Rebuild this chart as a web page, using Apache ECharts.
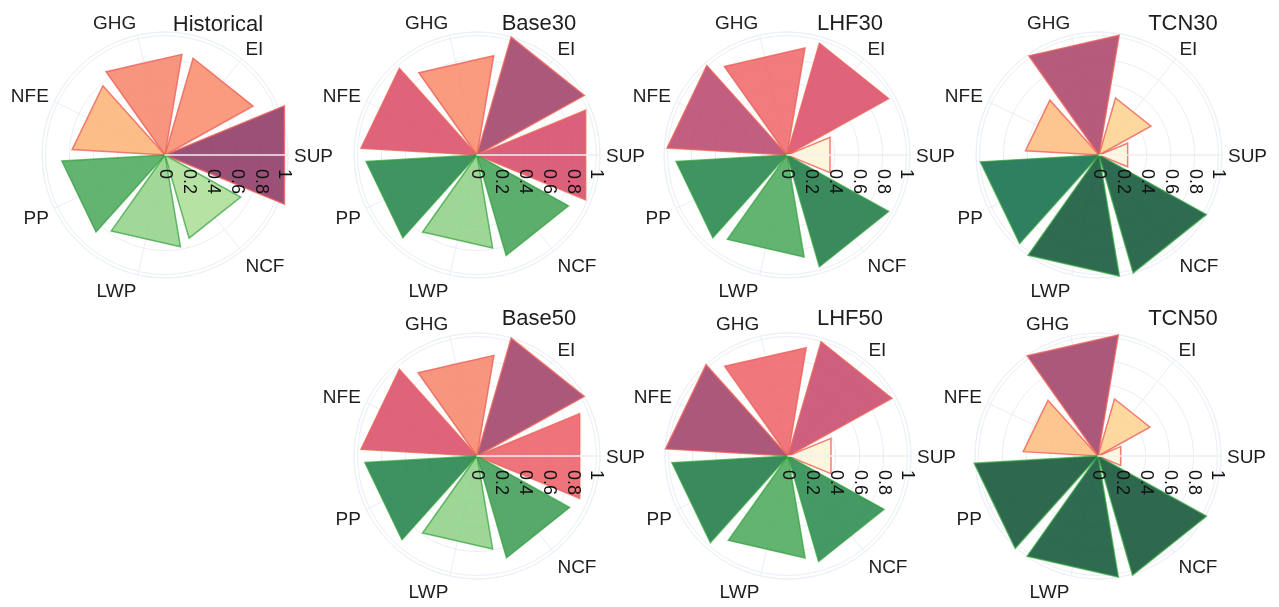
<!DOCTYPE html>
<html>
<head>
<meta charset="utf-8">
<script src="https://cdn.jsdelivr.net/npm/echarts@6/dist/echarts.min.js"></script>
<style>
html,body{margin:0;padding:0;background:#ffffff;}
#chart{width:1279px;height:607px;}
</style>
</head>
<body>
<div id="chart"></div>
<script>
// ---------------- data ----------------
const categories = ['SUP', 'EI', 'GHG', 'NFE', 'PP', 'LWP', 'NCF'];
const scenarioNames = ['Historical', 'Base30', 'LHF30', 'TCN30', 'Base50', 'LHF50', 'TCN50'];
const historical = [1.00, 0.78, 0.79, 0.72, 0.80, 0.72, 0.67];
const base30     = [0.91, 0.95, 0.78, 0.90, 0.86, 0.73, 0.81];
const lhf30      = [0.36, 0.90, 0.84, 0.93, 0.86, 0.80, 0.90];
const tcn30      = [0.24, 0.46, 0.94, 0.57, 0.92, 0.95, 0.95];
const base50     = [0.86, 0.95, 0.79, 0.90, 0.87, 0.73, 0.82];
const lhf50      = [0.36, 0.92, 0.85, 0.95, 0.90, 0.80, 0.85];
const tcn50      = [0.19, 0.46, 0.95, 0.58, 0.96, 0.95, 0.96];
const radialTicks = [0, 0.2, 0.4, 0.6, 0.8, 1];
const warmCount = 4; // first four categories use the warm scale

// ---------------- styles / layout ----------------
const FONT = '"Liberation Sans", Arial, Helvetica, sans-serif';
const panelValues = [historical, base30, lhf30, tcn30, base50, lhf50, tcn50];
const centers = [[165,155],[477,155],[787,155],[1099,155],[477,456],[788,456],[1098,456]];
const titlePos = [[218,25],[539,24],[850,24],[1183,24],[539,319],[850,319],[1183,319]];
const RADIUS = 123, RMAX = 1.03, HALF = 22.4, LABEL_R = 1.08;
const STEP = 360 / categories.length;
const ALPHA = 0.85;

const warmStops = [[0,'#fef8e0'],[0.38,'#fef6dc'],[0.46,'#fdd9a0'],[0.57,'#fdc690'],[0.72,'#fcbd88'],
  [0.78,'#fa9a7e'],[0.84,'#f17b7d'],[0.87,'#ee6f7a'],[0.91,'#da607c'],[0.93,'#c25e7f'],[0.95,'#ab587b'],[1.0,'#9c5077']];
const greenStops = [[0,'#c4e8b2'],[0.67,'#b6e2a4'],[0.73,'#9dd696'],[0.78,'#72c07c'],[0.81,'#5cae6c'],
  [0.86,'#3f9462'],[0.90,'#3a8a5e'],[0.92,'#2f8060'],[0.95,'#2e6b51'],[1.0,'#2c6048']];

function hexRgb(h){ return [parseInt(h.substr(1,2),16), parseInt(h.substr(3,2),16), parseInt(h.substr(5,2),16)]; }
function interp(v, stops){
  if (v <= stops[0][0]) return hexRgb(stops[0][1]);
  for (let i = 1; i < stops.length; i++) {
    if (v <= stops[i][0]) {
      const t = (v - stops[i-1][0]) / (stops[i][0] - stops[i-1][0]);
      const a = hexRgb(stops[i-1][1]), b = hexRgb(stops[i][1]);
      return a.map((c, j) => c + (b[j] - c) * t);
    }
  }
  return hexRgb(stops[stops.length-1][1]);
}
function fillFor(v, stops){
  const d = interp(v, stops);
  const base = d.map(c => Math.max(0, Math.min(255, Math.round((c - (1-ALPHA)*255) / ALPHA))));
  return 'rgba(' + base.join(',') + ',' + ALPHA + ')';
}

function barRenderer(params, api){
  const v = api.value(0), a = api.value(1);
  const rc = v / Math.cos(HALF * Math.PI / 180);
  const c = api.coord([0, a]);
  const p1 = api.coord([rc, a - HALF]);
  const p2 = api.coord([rc, a + HALF]);
  const warm = params.dataIndex < warmCount;
  return {
    type: 'polygon',
    shape: { points: [c, p1, p2] },
    style: {
      fill: fillFor(v, warm ? warmStops : greenStops),
      stroke: warm ? 'rgba(236,98,88,0.8)' : 'rgba(48,160,58,0.7)',
      lineWidth: 1.5
    }
  };
}

function labelRenderer(params, api){
  const a = api.value(1);
  const p = api.coord([api.value(0), a]);
  const rad = a * Math.PI / 180;
  const s = Math.sin(rad), c = Math.cos(rad);
  const align = Math.abs(c) < 0.05 ? 'center' : (c > 0 ? 'left' : 'right');
  const dy = s > 0.05 ? -6 * s : (s < -0.05 ? 11 * Math.min(1, -s * 1.6) : 1.5);
  return {
    type: 'text',
    x: p[0], y: p[1] + dy,
    style: {
      text: categories[params.dataIndex],
      align: align, verticalAlign: 'middle',
      fontSize: 19, fontFamily: FONT, fill: '#1e1e1e'
    }
  };
}

const option = {
  backgroundColor: '#ffffff',
  animation: false,
  polar: [], angleAxis: [], radiusAxis: [], series: [], graphic: []
};

panelValues.forEach((vals, k) => {
  const base = 2 * k, over = 2 * k + 1;
  option.polar.push({ center: centers[k], radius: RADIUS });
  option.polar.push({ center: centers[k], radius: RADIUS });

  option.angleAxis.push({
    polarIndex: base, type: 'value', min: 0, max: 360, interval: STEP,
    startAngle: 0, clockwise: false,
    axisLine: { show: true, lineStyle: { color: '#edf1f8', width: 1 } },
    axisTick: { show: false }, axisLabel: { show: false },
    splitLine: { show: true, lineStyle: { color: '#e9eef6', width: 1 } }
  });
  option.radiusAxis.push({
    polarIndex: base, type: 'value', min: 0, max: RMAX, interval: 0.2,
    axisLine: { show: false }, axisTick: { show: false }, axisLabel: { show: false },
    splitLine: { show: true, lineStyle: { color: '#e9eef6', width: 1 } }
  });
  option.angleAxis.push({
    polarIndex: over, type: 'value', min: 0, max: 360, startAngle: 0, clockwise: false, show: false
  });
  option.radiusAxis.push({
    polarIndex: over, type: 'value', min: 0, max: RMAX, interval: 0.2, z: 10,
    axisLine: { show: true, lineStyle: { color: '#f2eff5', width: 1.5 } },
    axisTick: { show: false }, splitLine: { show: false },
    axisLabel: {
      show: true, customValues: radialTicks, rotate: -90, margin: -14,
      align: 'left', verticalAlign: 'middle', padding: [6, 0, 0, 0],
      fontSize: 18, color: '#111', fontFamily: FONT
    }
  });

  option.series.push({
    type: 'custom', coordinateSystem: 'polar', polarIndex: base, silent: true, z: 2,
    data: vals.map((v, i) => [v, i * STEP]),
    renderItem: barRenderer
  });
  option.series.push({
    type: 'custom', coordinateSystem: 'polar', polarIndex: base, silent: true, z: 3,
    data: categories.map((c, i) => [LABEL_R, i * STEP]),
    renderItem: labelRenderer
  });

  option.graphic.push({
    type: 'text', x: titlePos[k][0], y: titlePos[k][1], z: 20,
    style: { text: scenarioNames[k], align: 'center', verticalAlign: 'middle',
             fontSize: 22, fontFamily: FONT, fill: '#1e1e1e' }
  });
});

const chart = echarts.init(document.getElementById('chart'));
chart.setOption(option);
</script>
</body>
</html>
